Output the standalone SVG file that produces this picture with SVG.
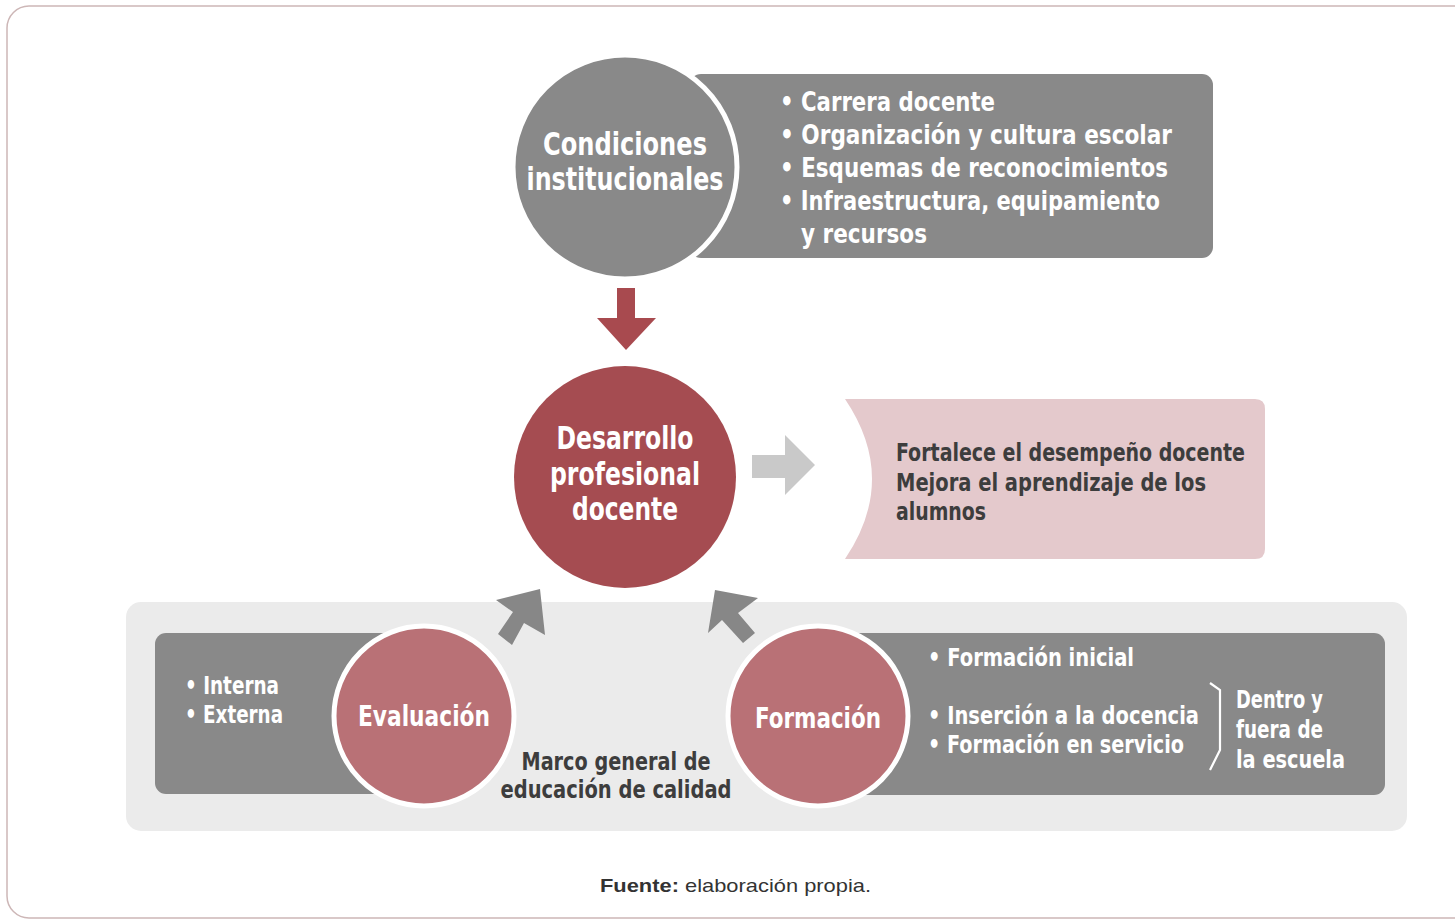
<svg xmlns="http://www.w3.org/2000/svg" width="1455" height="919" viewBox="0 0 1455 919">
<style>
.t{font-family:"Liberation Sans Narrow","DejaVu Sans Condensed","Liberation Sans",sans-serif;font-weight:bold;font-stretch:condensed}
.w{fill:#ffffff}
.d{fill:#3d3d3d}
.c{text-anchor:middle}
.box{fill:#898989}
.circ{stroke:#ffffff;stroke-width:5}
</style>
<rect x="7" y="6" width="1480" height="912" rx="22" fill="#ffffff" stroke="#cdb7b7" stroke-width="1.5"/>
<g id="panel-marco">
<rect x="126" y="602" width="1281" height="229" rx="15" fill="#ebebeb"/>
<text class="t d c" font-size="25" x="616" y="770" textLength="189" lengthAdjust="spacingAndGlyphs">Marco general de</text>
<text class="t d c" font-size="25" x="616" y="798" textLength="231" lengthAdjust="spacingAndGlyphs">educación de calidad</text>
</g>
<g id="connectors">
<polygon points="617,288 635,288 635,318 656,318 626,350 597,318 617,318" fill="#a84a4f"/>
<polygon points="752,455 785,455 785,435 815,465 785,495 785,478 752,478" fill="#c9c9c9"/>
<polygon points="540,589 545,635 524,623 512,645 498,634 513,612 496,600" fill="#878787"/>
<polygon points="715,590 758,598 738,613 755,633 743,643 722,620 708,633" fill="#878787"/>
</g>
<g id="condiciones">
<rect x="690" y="74" width="523" height="184" rx="11" class="box"/>
<circle cx="625" cy="167" r="112" class="box circ"/>
<text class="t w c" font-size="32" x="625" y="155" textLength="164" lengthAdjust="spacingAndGlyphs">Condiciones</text>
<text class="t w c" font-size="32" x="625" y="190" textLength="197" lengthAdjust="spacingAndGlyphs">institucionales</text>
<text class="t w" font-size="27" x="780" y="111" textLength="215" lengthAdjust="spacingAndGlyphs">• Carrera docente</text>
<text class="t w" font-size="27" x="780" y="144" textLength="392" lengthAdjust="spacingAndGlyphs">• Organización y cultura escolar</text>
<text class="t w" font-size="27" x="780" y="177" textLength="388" lengthAdjust="spacingAndGlyphs">• Esquemas de reconocimientos</text>
<text class="t w" font-size="27" x="780" y="210" textLength="380" lengthAdjust="spacingAndGlyphs">• Infraestructura, equipamiento</text>
<text class="t w" font-size="27" x="801" y="243" textLength="126" lengthAdjust="spacingAndGlyphs">y recursos</text>
</g>
<g id="desarrollo">
<circle cx="625" cy="477" r="111" fill="#a54c51"/>
<text class="t w c" font-size="32" x="625" y="449" textLength="137" lengthAdjust="spacingAndGlyphs">Desarrollo</text>
<text class="t w c" font-size="32" x="625" y="485" textLength="150" lengthAdjust="spacingAndGlyphs">profesional</text>
<text class="t w c" font-size="32" x="625" y="520" textLength="106" lengthAdjust="spacingAndGlyphs">docente</text>
</g>
<g id="resultados">
<path d="M845,399 L1255,399 Q1265,399 1265,409 L1265,549 Q1265,559 1255,559 L845,559 Q899,479 845,399 Z" fill="#e4c9cc"/>
<text class="t d" font-size="25" x="896" y="461" textLength="349" lengthAdjust="spacingAndGlyphs">Fortalece el desempeño docente</text>
<text class="t d" font-size="25" x="896" y="491" textLength="310" lengthAdjust="spacingAndGlyphs">Mejora el aprendizaje de los</text>
<text class="t d" font-size="25" x="896" y="520" textLength="90" lengthAdjust="spacingAndGlyphs">alumnos</text>
</g>
<g id="evaluacion">
<rect x="155" y="633" width="260" height="161" rx="11" class="box"/>
<text class="t w" font-size="25" x="185" y="694" textLength="94" lengthAdjust="spacingAndGlyphs">• Interna</text>
<text class="t w" font-size="25" x="185" y="723" textLength="98" lengthAdjust="spacingAndGlyphs">• Externa</text>
<circle cx="424" cy="716" r="90" fill="#b97176" class="circ"/>
<text class="t w c" font-size="29" x="424" y="726" textLength="132" lengthAdjust="spacingAndGlyphs">Evaluación</text>
</g>
<g id="formacion">
<rect x="830" y="633" width="555" height="162" rx="11" class="box"/>
<circle cx="818" cy="716" r="90" fill="#b97176" class="circ"/>
<text class="t w c" font-size="29" x="818" y="728" textLength="126" lengthAdjust="spacingAndGlyphs">Formación</text>
<text class="t w" font-size="25" x="928" y="666" textLength="206" lengthAdjust="spacingAndGlyphs">• Formación inicial</text>
<text class="t w" font-size="25" x="928" y="724" textLength="271" lengthAdjust="spacingAndGlyphs">• Inserción a la docencia</text>
<text class="t w" font-size="25" x="928" y="753" textLength="256" lengthAdjust="spacingAndGlyphs">• Formación en servicio</text>
<path d="M1210,683 L1220,690 L1220,750 L1210,770" fill="none" stroke="#ffffff" stroke-width="2.2"/>
<text class="t w" font-size="25" x="1236" y="708" textLength="87" lengthAdjust="spacingAndGlyphs">Dentro y</text>
<text class="t w" font-size="25" x="1236" y="738" textLength="87" lengthAdjust="spacingAndGlyphs">fuera de</text>
<text class="t w" font-size="25" x="1236" y="768" textLength="109" lengthAdjust="spacingAndGlyphs">la escuela</text>
</g>
<text x="600" y="892" font-family="Liberation Sans, Arial, sans-serif" font-size="19" fill="#333333" textLength="271" lengthAdjust="spacingAndGlyphs"><tspan font-weight="bold">Fuente:</tspan> elaboración propia.</text>
</svg>
